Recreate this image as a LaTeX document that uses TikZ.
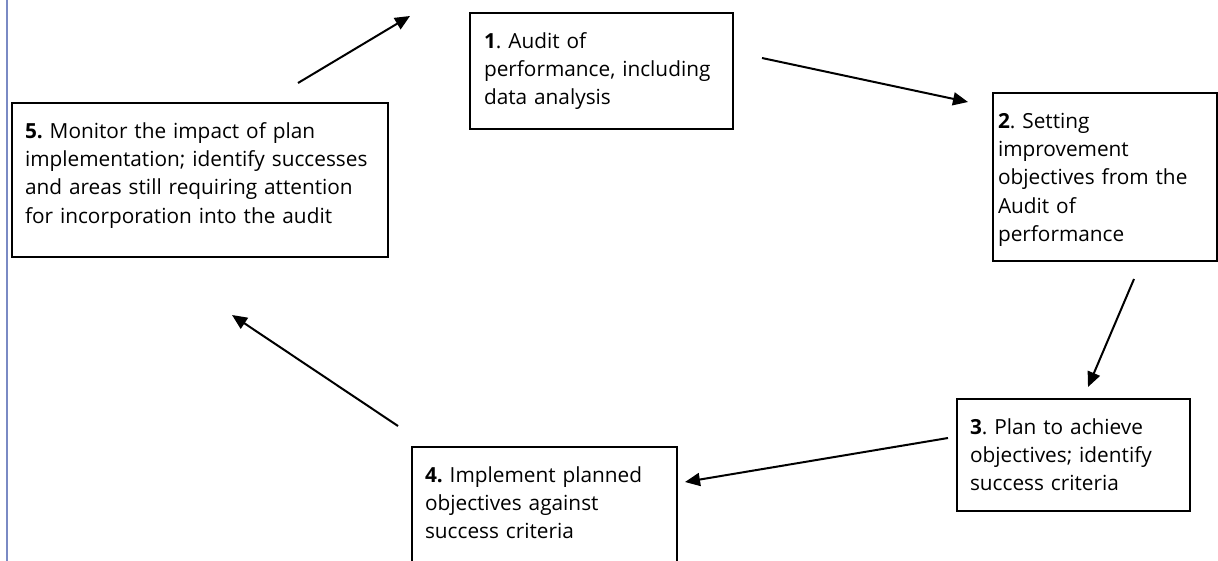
\documentclass[tikz,border=0pt]{standalone}
\usepackage{fontspec}
\setmainfont{Open Sans}
\usetikzlibrary{arrows.meta}
\frenchspacing

\begin{document}
\begin{tikzpicture}[x=1pt, y=-1pt]
	\tikzset{stage/.style={draw, line width=2pt, anchor=north west, align=left, inner ysep=0pt, inner xsep=13pt, text height=35pt, font=\fontsize{20.8}{28.4}\selectfont},
		edge/.style={-{Triangle[length=15pt, width=13pt]}, line width=2pt}}
	\useasboundingbox (0,0) rectangle (1218,560);
	\draw[line width=2pt, color={rgb,255:red,122;green,138;blue,196}] (7,-5) -- (7,570);
	\node[stage, text width=350pt, text depth=119pt](5) at (11,102){\textbf{5.} Monitor the impact of plan\\implementation; identify successes\\and areas still requiring attention\\for incorporation into the audit};
	\node[stage, inner xsep=14pt, text width=235pt, text depth=81pt](1) at (469,12){\textbf{1}. Audit of\\performance, including\\data analysis};
	\node[stage, inner xsep=5pt, text width=214pt, text depth=133pt](2) at (992,92){\textbf{2}. Setting\\improvement\\objectives from the\\Audit of\\performance};
	\node[stage, text width=207pt, text depth=77pt](3) at (956,398){\textbf{3}. Plan to achieve\\objectives; identify\\success criteria};
	\node[stage, text width=239pt, text depth=105pt](4) at (411,446){\textbf{4.} Implement planned\\objectives against\\success criteria};
	\coordinate (s1) at (762,58);   \coordinate (e1) at (968,102);
	\coordinate (s2) at (1134,279); \coordinate (e2) at (1088,387);
	\coordinate (s3) at (948,438);  \coordinate (e3) at (685,482);
	\coordinate (s4) at (398,426);  \coordinate (e4) at (232,315);
	\coordinate (s5) at (298,83);   \coordinate (e5) at (410,16);
	\draw[edge] (s1)--(e1);
	\draw[edge] (s2)--(e2);
	\draw[edge] (s3)--(e3);
	\draw[edge] (s4)--(e4);
	\draw[edge] (s5)--(e5);
\end{tikzpicture}
\end{document}
